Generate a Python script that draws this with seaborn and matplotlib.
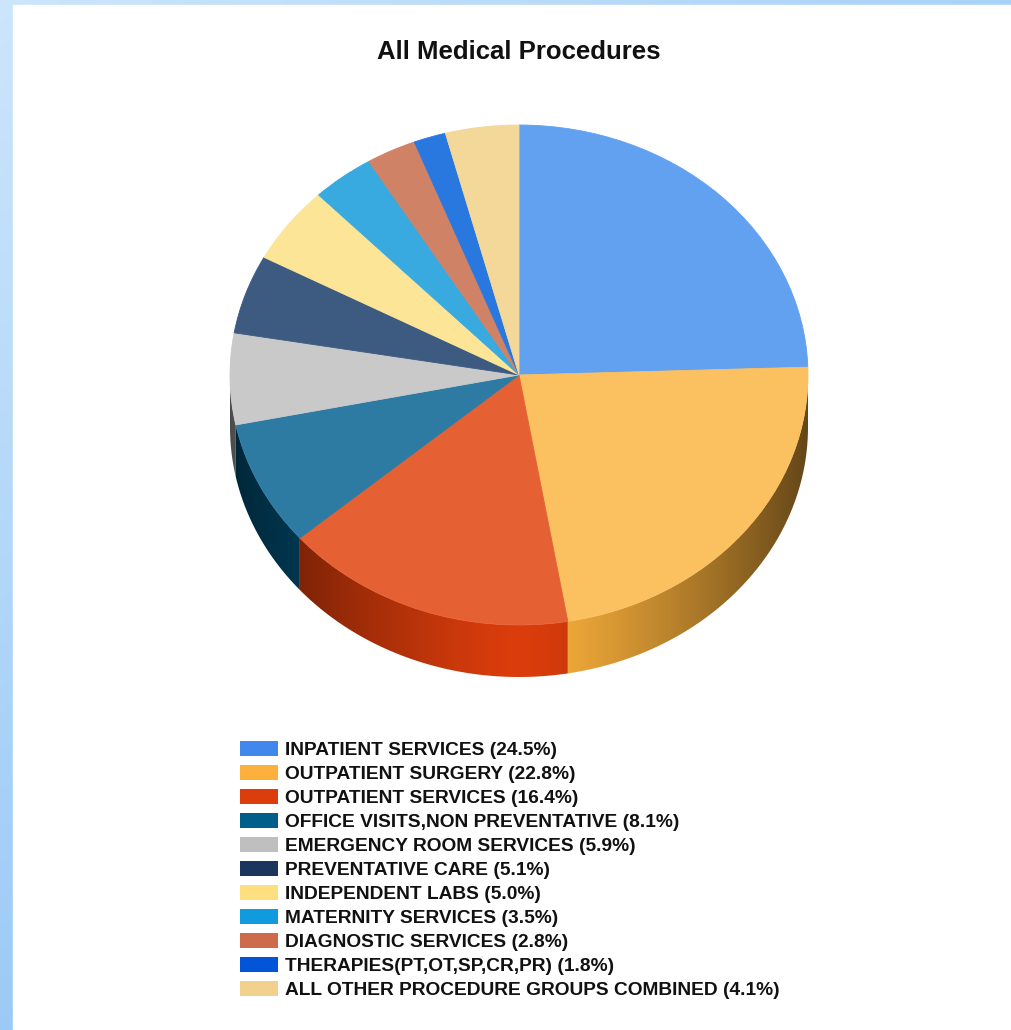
import numpy as np
import matplotlib
matplotlib.use("Agg")
import matplotlib.pyplot as plt
from matplotlib.patches import Patch, Rectangle, Polygon
import seaborn as sns

# data
categories = [
    "INPATIENT SERVICES",
    "OUTPATIENT SURGERY",
    "OUTPATIENT SERVICES",
    "OFFICE VISITS,NON PREVENTATIVE",
    "EMERGENCY ROOM SERVICES",
    "PREVENTATIVE CARE",
    "INDEPENDENT LABS",
    "MATERNITY SERVICES",
    "DIAGNOSTIC SERVICES",
    "THERAPIES(PT,OT,SP,CR,PR)",
    "ALL OTHER PROCEDURE GROUPS COMBINED",
]
shares = [24.5, 22.8, 16.4, 8.1, 5.9, 5.1, 5.0, 3.5, 2.8, 1.8, 4.1]

# legend colours and the (lighter) colours of the pie top
legend_colors = ["#4287ec", "#fbb13c", "#dc3d0c", "#005f8a", "#bfbfbf", "#1b355e",
                 "#fedf80", "#109bdf", "#cf6b4d", "#0355d8", "#f2d08d"]
top_colors = ["#62a0f0", "#fbc060", "#e56033", "#2d7ba3", "#c9c9c9", "#3d5a80",
              "#fde598", "#38aadf", "#d08266", "#2878e0", "#f4d89a"]

sns.set_theme(style="white")
plt.rcParams['font.family'] = ['Liberation Sans', 'DejaVu Sans']
plt.rcParams['text.color'] = '#111111'

W, H = 1011, 1030
fig = plt.figure(figsize=(W / 100, H / 100), dpi=100)

# blue frame in the background
bg = fig.add_axes([0, 0, 1, 1])
gx, gy = np.meshgrid(np.linspace(0, 1, 200), np.linspace(0, 1, 200))
t = np.clip(0.55 * gx + 0.75 * gy, 0, 1)
light = np.array([0.80, 0.90, 0.985])
dark = np.array([0.55, 0.76, 0.96])
img = light[None, None, :] * (1 - t[..., None]) + dark[None, None, :] * t[..., None]
bg.imshow(img, extent=[0, W, H, 0], aspect="auto")
bg.add_patch(Rectangle((13, 5), W, H, color="white"))
bg.set_xlim(0, W)
bg.set_ylim(H, 0)
bg.axis("off")

# pie axes: centre at pixel (519, 375), radii 289 x 250
cx, cy, rx, ry = 519, 375, 289, 250
left_px, right_px = cx - 1.1 * rx, cx + 1.1 * rx
top_px, bot_px = cy - 1.1 * ry, cy + 1.4 * ry
ax = fig.add_axes([left_px / W, 1 - bot_px / H, (right_px - left_px) / W, (bot_px - top_px) / H])

depth = 52 / ry
fracs = np.array(shares) / np.sum(shares)
edges = 90 - 360 * np.concatenate([[0], np.cumsum(fracs)])

# side wall of the 3D pie, shaded by horizontal position
xg = np.linspace(-1, 1, 400)
shade = 1 - 0.6 * np.abs(xg) ** 1.3
for i in range(len(shares)):
    a0, a1 = edges[i + 1], edges[i]
    base = np.array(matplotlib.colors.to_rgb(legend_colors[i]))
    grad = np.clip(base[None, None, :] * shade[None, :, None], 0, 1)
    for k in (-360, 0):
        s0 = max(a0, 180 + k)
        s1 = min(a1, 360 + k)
        if s1 <= s0:
            continue
        th = np.radians(np.linspace(s0, s1, 100))
        xs = np.concatenate([np.cos(th), np.cos(th[::-1])])
        ys = np.concatenate([np.sin(th), np.sin(th[::-1]) - depth])
        poly = Polygon(np.column_stack([xs, ys]), closed=True, facecolor="none", edgecolor="none")
        ax.add_patch(poly)
        im = ax.imshow(grad, extent=[-1, 1, -1 - depth, 0], aspect="auto", zorder=1,
                       interpolation="bilinear")
        im.set_clip_path(poly)

wedges, _ = ax.pie(shares, colors=top_colors, startangle=90, counterclock=False,
                   wedgeprops=dict(linewidth=0.6, edgecolor="none"))
for w, c in zip(wedges, top_colors):
    w.set_edgecolor(c)
    w.set_zorder(2)

ax.set_aspect("auto")
ax.set_xlim(-1.1, 1.1)
ax.set_ylim(-1.4, 1.1)
ax.axis("off")

fig.text(cx / W, 1 - 52 / H, "All Medical Procedures", ha="center", va="center",
         fontsize=18.5, fontweight="bold", color="#111111")

handles = [Patch(facecolor=c, edgecolor="none") for c in legend_colors]
labels = [f"{n} ({v:.1f}%)" for n, v in zip(categories, shares)]
fs = 13.8
fig.legend(handles, labels, loc="upper left", bbox_to_anchor=(240 / W, 1 - 741 / H),
           frameon=False, borderpad=0, borderaxespad=0,
           prop=dict(weight="bold", size=fs), labelcolor="#111111",
           handlelength=2.0, handleheight=0.84, handletextpad=0.37, labelspacing=0.30)

fig.savefig("out.png", dpi=100)
